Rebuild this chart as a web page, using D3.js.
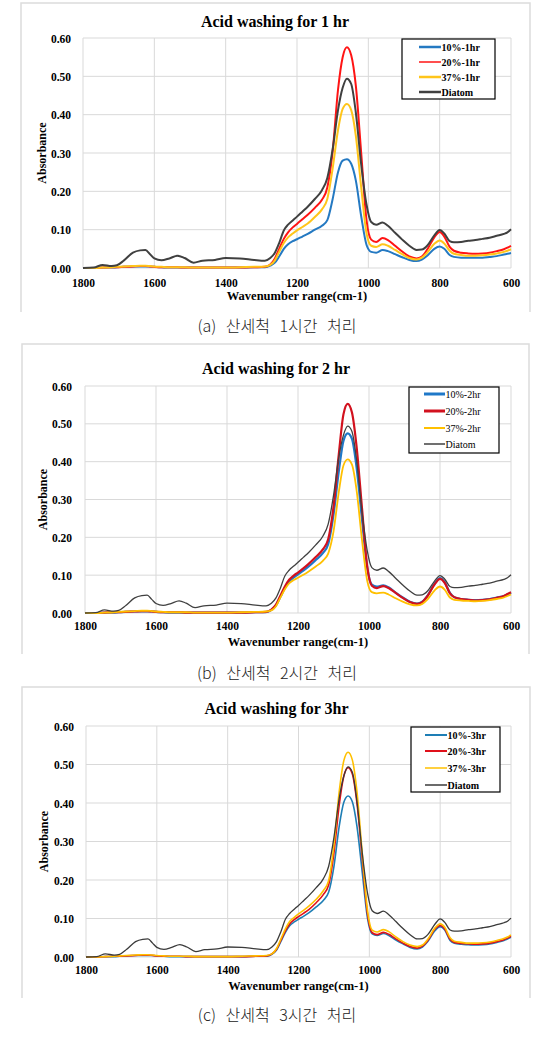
<!DOCTYPE html>
<html><head><meta charset="utf-8">
<script src="https://cdn.jsdelivr.net/npm/d3@7"></script>
<style>
html,body{margin:0;padding:0;background:#fff;}
svg{display:block;}
</style></head>
<body>
<svg id="chart" width="556" height="1040"></svg>
<script>
// ---------- DATA ----------
const WAVENUMBERS = [1800,1770,1745,1720,1705,1685,1660,1640,1625,1612,1600,1580,1558,1535,1515,1490,1465,1430,1400,1360,1320,1290,
  1275,1262,1250,1237,1225,1212,1200,1185,1170,1150,1130,1115,1100,1085,1072,1060,1048,1035,1020,1005,992,978,960,945,925,905,885,865,850,835,815,800,787,772,760,740,720,700,680,660,640,620,610,600];

const X_TICKS = [1800,1600,1400,1200,1000,800,600];
const Y_TICKS = [0.00,0.10,0.20,0.30,0.40,0.50,0.60];

const DIATOM = [0.000,0.001,0.008,0.005,0.007,0.020,0.040,0.046,0.047,0.036,0.025,0.020,0.025,0.032,0.026,0.014,0.019,0.021,0.026,0.025,0.021,0.019,
  0.026,0.040,0.065,0.098,0.113,0.124,0.134,0.147,0.160,0.180,0.203,0.235,0.310,0.412,0.470,0.494,0.480,0.405,0.270,0.165,0.120,0.113,0.119,0.110,0.092,0.074,0.058,0.047,0.048,0.058,0.085,0.099,0.090,0.070,0.067,0.068,0.071,0.073,0.076,0.079,0.084,0.089,0.093,0.101];

// 1 hr
const P10_1HR = [0.000,0.000,0.001,0.001,0.002,0.003,0.004,0.004,0.004,0.004,0.003,0.002,0.001,0.001,0.001,0.001,0.001,0.001,0.001,0.001,0.002,0.002,
  0.006,0.014,0.030,0.050,0.062,0.070,0.075,0.082,0.089,0.100,0.110,0.125,0.180,0.250,0.280,0.284,0.272,0.228,0.135,0.060,0.042,0.040,0.047,0.044,0.036,0.028,0.021,0.018,0.022,0.032,0.050,0.056,0.050,0.034,0.029,0.027,0.027,0.027,0.027,0.029,0.031,0.035,0.037,0.039];
const P20_1HR = [0.000,0.000,0.001,0.002,0.002,0.003,0.004,0.005,0.005,0.004,0.003,0.002,0.002,0.002,0.001,0.001,0.001,0.001,0.001,0.001,0.002,0.003,
  0.009,0.025,0.050,0.076,0.093,0.106,0.115,0.127,0.139,0.157,0.178,0.210,0.305,0.465,0.550,0.576,0.555,0.475,0.300,0.124,0.074,0.068,0.078,0.073,0.058,0.043,0.030,0.025,0.030,0.048,0.080,0.094,0.082,0.055,0.045,0.040,0.038,0.037,0.038,0.040,0.044,0.049,0.053,0.058];
const P37_1HR = [0.000,0.000,0.001,0.002,0.003,0.004,0.005,0.006,0.006,0.005,0.004,0.003,0.002,0.002,0.002,0.001,0.001,0.001,0.001,0.002,0.003,0.004,
  0.008,0.020,0.042,0.065,0.080,0.090,0.098,0.107,0.116,0.133,0.153,0.180,0.260,0.360,0.415,0.428,0.412,0.345,0.210,0.090,0.058,0.055,0.062,0.058,0.047,0.036,0.026,0.022,0.027,0.040,0.063,0.072,0.064,0.045,0.037,0.034,0.032,0.032,0.033,0.035,0.038,0.042,0.045,0.049];

// 2 hr
const P10_2HR = [0.000,0.000,0.001,0.001,0.002,0.003,0.004,0.004,0.004,0.004,0.003,0.002,0.001,0.001,0.001,0.001,0.001,0.001,0.001,0.001,0.002,0.002,
  0.008,0.020,0.042,0.066,0.083,0.094,0.102,0.112,0.123,0.140,0.158,0.182,0.260,0.375,0.455,0.475,0.460,0.385,0.250,0.120,0.075,0.070,0.073,0.068,0.054,0.041,0.030,0.025,0.030,0.046,0.078,0.092,0.082,0.053,0.042,0.037,0.035,0.034,0.035,0.037,0.041,0.045,0.049,0.054];
const P20_2HR = [0.000,0.000,0.001,0.002,0.002,0.003,0.004,0.005,0.005,0.004,0.003,0.002,0.002,0.002,0.001,0.001,0.001,0.001,0.001,0.001,0.002,0.003,
  0.009,0.022,0.045,0.070,0.088,0.099,0.107,0.118,0.130,0.148,0.168,0.195,0.280,0.420,0.525,0.553,0.530,0.440,0.280,0.123,0.072,0.066,0.071,0.066,0.053,0.040,0.029,0.024,0.029,0.045,0.076,0.090,0.080,0.052,0.042,0.037,0.035,0.033,0.034,0.036,0.040,0.045,0.050,0.055];
const P37_2HR = [0.000,0.000,0.001,0.002,0.003,0.004,0.005,0.006,0.006,0.005,0.004,0.003,0.002,0.002,0.002,0.001,0.001,0.001,0.001,0.002,0.003,0.004,
  0.007,0.018,0.040,0.063,0.078,0.087,0.093,0.101,0.110,0.123,0.138,0.157,0.215,0.320,0.390,0.406,0.392,0.325,0.195,0.085,0.055,0.052,0.054,0.049,0.039,0.030,0.023,0.020,0.024,0.036,0.060,0.070,0.062,0.041,0.035,0.033,0.032,0.031,0.032,0.034,0.037,0.041,0.045,0.049];

// 3 hr
const P10_3HR = [0.000,0.000,0.001,0.001,0.002,0.003,0.004,0.004,0.004,0.004,0.003,0.002,0.001,0.001,0.001,0.001,0.001,0.001,0.001,0.001,0.002,0.002,
  0.007,0.018,0.040,0.064,0.081,0.091,0.098,0.106,0.115,0.130,0.147,0.168,0.235,0.340,0.402,0.418,0.403,0.340,0.220,0.100,0.060,0.056,0.061,0.056,0.044,0.034,0.025,0.021,0.026,0.040,0.068,0.079,0.070,0.043,0.036,0.033,0.032,0.031,0.032,0.034,0.038,0.043,0.047,0.051];
const P20_3HR = [0.000,0.000,0.001,0.002,0.002,0.003,0.004,0.005,0.005,0.004,0.003,0.002,0.002,0.002,0.001,0.001,0.001,0.001,0.001,0.001,0.002,0.003,
  0.008,0.020,0.043,0.068,0.086,0.097,0.105,0.114,0.124,0.141,0.162,0.187,0.270,0.395,0.470,0.492,0.475,0.400,0.255,0.110,0.063,0.058,0.064,0.059,0.047,0.036,0.027,0.023,0.028,0.043,0.072,0.082,0.073,0.046,0.038,0.035,0.034,0.033,0.034,0.036,0.040,0.045,0.049,0.054];
const P37_3HR = [0.000,0.000,0.001,0.002,0.003,0.004,0.005,0.006,0.006,0.005,0.004,0.003,0.002,0.002,0.002,0.001,0.001,0.001,0.001,0.002,0.003,0.004,
  0.008,0.022,0.046,0.073,0.092,0.103,0.112,0.122,0.133,0.150,0.172,0.198,0.290,0.430,0.510,0.532,0.512,0.430,0.270,0.120,0.070,0.065,0.071,0.066,0.052,0.040,0.031,0.027,0.031,0.046,0.075,0.086,0.077,0.050,0.041,0.038,0.036,0.036,0.037,0.039,0.043,0.048,0.052,0.057];

const TITLES = ["Acid washing for 1 hr","Acid washing for 2 hr","Acid washing for 3hr"];
const CAPTIONS = ["(a) 산세척 1시간 처리","(b) 산세척 2시간 처리","(c) 산세척 3시간 처리"];
const LEGEND_NAMES = [["10%-1hr","20%-1hr","37%-1hr","Diatom"],["10%-2hr","20%-2hr","37%-2hr","Diatom"],["10%-3hr","20%-3hr","37%-3hr","Diatom"]];
const SERIES_VALUES = [[P10_1HR,P20_1HR,P37_1HR,DIATOM],[P10_2HR,P20_2HR,P37_2HR,DIATOM],[P10_3HR,P20_3HR,P37_3HR,DIATOM]];
const X_LABEL = "Wavenumber range(cm-1)";
const Y_LABEL = "Absorbance";

// ---------- LAYOUT / STYLE ----------
const LAYOUT = [
  {frame:[21,3,530,312], x0:83, x1:511, yTop:38, yBot:268, titleY:27, yLabRight:71, xLabY:287, xTitleY:300, yTitleX:42,
   legend:{x0:402,y0:39,x1:495,y1:99,rows:[47,62,77,92],lx0:419,lx1:441}, legendWeight:"bold", capY:332,
   colors:["#2479C2","#FF1414","#FFC51A","#404040"], widths:[2,2,2,2], legW:[2.5,1.5,2.5,2.5]},
  {frame:[22,344,529,654], x0:85, x1:511, yTop:386, yBot:613, titleY:374, yLabRight:72, xLabY:630, xTitleY:646, yTitleX:43,
   legend:{x0:409,y0:387,x1:499,y1:453,rows:[394,411,428,444],lx0:424,lx1:445}, legendWeight:"normal", capY:679,
   colors:["#1F78C8","#D2111E","#FFC000","#404040"], widths:[2.2,2.2,1.8,1.3], legW:[3,3,2,1.5]},
  {frame:[22,687,530,998], x0:86, x1:511, yTop:726, yBot:957, titleY:714, yLabRight:74, xLabY:974, xTitleY:990, yTitleX:44,
   legend:{x0:411,y0:727,x1:500,y1:792,rows:[735,751,768,785],lx0:425,lx1:447}, legendWeight:"bold", capY:1021,
   colors:["#1E7EB5","#E0101A","#FFC000","#3A3A3A"], widths:[1.6,1.6,1.6,1.3], legW:[2,2,1.5,1.5]}
];

const SERIF = "'Liberation Serif','Times New Roman',serif";
const svg = d3.select("#chart");

LAYOUT.forEach((L, i) => {
  const g = svg.append("g");
  // frame (light gray, open bottom)
  const [fx0, fy0, fx1, fy1] = L.frame;
  g.append("path").attr("d", `M${fx0},${fy1}V${fy0}H${fx1}V${fy1}`)
    .attr("fill","none").attr("stroke","#dcdcdc").attr("stroke-width",1.5);

  const x = d3.scaleLinear().domain([1800,600]).range([L.x0, L.x1]);
  const y = d3.scaleLinear().domain([0,0.6]).range([L.yBot, L.yTop]);

  // gridlines
  g.append("g").selectAll("line.h").data(Y_TICKS).join("line")
    .attr("x1",L.x0).attr("x2",L.x1).attr("y1",d=>y(d)).attr("y2",d=>y(d))
    .attr("stroke","#d9d9d9").attr("stroke-width",1);
  g.append("g").selectAll("line.v").data(X_TICKS).join("line")
    .attr("y1",L.yTop).attr("y2",L.yBot).attr("x1",d=>x(d)).attr("x2",d=>x(d))
    .attr("stroke","#d9d9d9").attr("stroke-width",1);

  // axes (labels only)
  const ax = g.append("g").attr("transform",`translate(0,${L.xLabY-13})`)
    .call(d3.axisBottom(x).tickValues(X_TICKS).tickFormat(d3.format("d")).tickSize(0).tickPadding(0));
  ax.select(".domain").remove();
  ax.selectAll("text").attr("y",0).attr("dy",0).attr("transform","translate(0,13)")
    .style("font-family",SERIF).style("font-weight","bold").style("font-size","11.5px").attr("fill","#000");

  const ay = g.append("g").attr("transform",`translate(${L.yLabRight},0)`)
    .call(d3.axisLeft(y).tickValues(Y_TICKS).tickFormat(d3.format(".2f")).tickSize(0).tickPadding(0));
  ay.select(".domain").remove();
  ay.selectAll("text").attr("x",0).attr("dy","0.35em")
    .style("font-family",SERIF).style("font-weight","bold").style("font-size","11.5px").attr("fill","#000");

  // lines
  const line = d3.line().x((d,j)=>x(WAVENUMBERS[j])).y(d=>y(d)).curve(d3.curveMonotoneX);
  SERIES_VALUES[i].forEach((vals, k) => {
    g.append("path").datum(vals).attr("d", line)
      .attr("fill","none").attr("stroke",L.colors[k]).attr("stroke-width",L.widths[k])
      .attr("stroke-linejoin","round");
  });

  // title
  g.append("text").attr("x",(L.x0+L.x1)/2 - 22).attr("y",L.titleY).attr("text-anchor","middle")
    .style("font-family",SERIF).style("font-weight","bold").style("font-size","16px").text(TITLES[i]);
  // axis titles
  g.append("text").attr("x",(L.x0+L.x1)/2).attr("y",L.xTitleY).attr("text-anchor","middle")
    .style("font-family",SERIF).style("font-weight","bold").style("font-size","12.5px").text(X_LABEL);
  g.append("text").attr("transform",`translate(${L.yTitleX},${(L.yTop+L.yBot)/2}) rotate(-90)`)
    .attr("text-anchor","middle").attr("dy","0.35em")
    .style("font-family",SERIF).style("font-weight","bold").style("font-size","12px").text(Y_LABEL);

  // legend
  const lg = L.legend;
  g.append("rect").attr("x",lg.x0).attr("y",lg.y0).attr("width",lg.x1-lg.x0).attr("height",lg.y1-lg.y0)
    .attr("fill","#fff").attr("stroke","#000").attr("stroke-width",1.2);
  LEGEND_NAMES[i].forEach((name, k) => {
    g.append("line").attr("x1",lg.lx0).attr("x2",lg.lx1).attr("y1",lg.rows[k]).attr("y2",lg.rows[k])
      .attr("stroke",L.colors[k]).attr("stroke-width",L.legW[k]);
    g.append("text").attr("x",lg.lx1+0.5).attr("y",lg.rows[k]).attr("dy","0.35em")
      .style("font-family",SERIF).style("font-weight",L.legendWeight).style("font-size","10px").text(name);
  });

  // caption
  g.append("text").attr("x",277).attr("y",L.capY).attr("text-anchor","middle")
    .style("font-family","'Noto Sans CJK KR','Noto Sans CJK SC',sans-serif").style("font-weight","300")
    .style("font-size","16px").style("word-spacing","6px").attr("fill","#222").text(CAPTIONS[i]);
});
</script>
</body></html>
